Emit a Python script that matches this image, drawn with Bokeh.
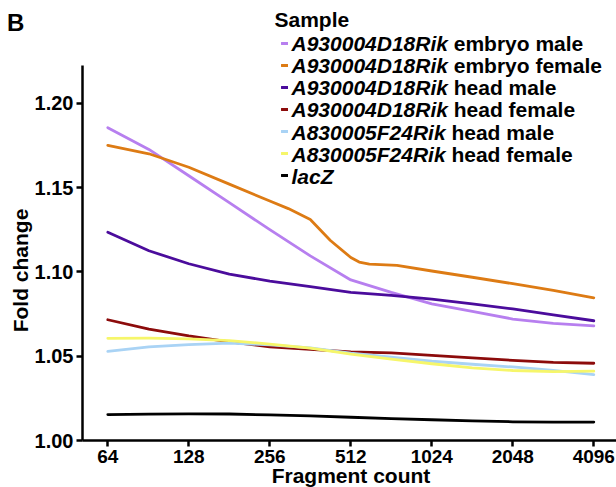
import math
from bokeh.plotting import figure
from bokeh.models import (Range1d, FixedTicker, CustomJSTickFormatter, Label,
                          Legend, LegendItem)
from bokeh.embed import file_html
from bokeh.resources import INLINE

# ---------------- data ----------------
fragment_count = [64, 91, 128, 181, 256, 362, 512, 724, 1024, 1448, 2048, 2896, 4096]
embryo_male = [1.1855, 1.1726, 1.157, 1.141, 1.125, 1.1095, 1.0952, 1.0878, 1.081, 1.0765, 1.072, 1.0695, 1.068]
embryo_female_x = [64, 91, 128, 181, 256, 300, 362, 430, 512, 550, 600, 760, 1024, 1448, 2048, 2896, 4096]
embryo_female = [1.175, 1.170, 1.162, 1.152, 1.142, 1.1375, 1.131, 1.1186, 1.1085, 1.1058, 1.1046, 1.1038, 1.1005, 1.0968, 1.093, 1.089, 1.0846]
head_male = [1.1235, 1.1125, 1.1048, 1.0986, 1.0945, 1.0913, 1.0878, 1.086, 1.0838, 1.081, 1.078, 1.0745, 1.071]
head_female = [1.0716, 1.066, 1.062, 1.0585, 1.0555, 1.054, 1.0525, 1.052, 1.0505, 1.049, 1.0475, 1.0463, 1.0458]
f24_head_male = [1.0528, 1.0555, 1.0569, 1.0577, 1.0567, 1.0549, 1.0518, 1.0494, 1.047, 1.0452, 1.0436, 1.0416, 1.0391]
f24_head_female = [1.0606, 1.0607, 1.0603, 1.0592, 1.0572, 1.0548, 1.0512, 1.0482, 1.0455, 1.0431, 1.0415, 1.0408, 1.0411]
lacz = [1.0154, 1.0156, 1.0158, 1.0157, 1.0152, 1.0146, 1.0138, 1.013, 1.0123, 1.0116, 1.0111, 1.0109, 1.0109]

sample_genes = ["A930004D18Rik", "A930004D18Rik", "A930004D18Rik", "A930004D18Rik",
                "A830005F24Rik", "A830005F24Rik", "lacZ"]
sample_suffix = ["embryo male", "embryo female", "head male", "head female",
                 "head male", "head female", ""]
sample_colors = ["#B77FEF", "#DD7B14", "#4B0C9C", "#8C0B0B", "#A9D3F5", "#F6F66A", "#000000"]

x_ticks = [64, 128, 256, 512, 1024, 2048, 4096]
x_tick_labels = ["64", "128", "256", "512", "1024", "2048", "4096"]
y_ticks = [1.00, 1.05, 1.10, 1.15, 1.20]
y_tick_labels = ["1.00", "1.05", "1.10", "1.15", "1.20"]

series_x = [fragment_count, embryo_female_x, fragment_count, fragment_count,
            fragment_count, fragment_count, fragment_count]
series_y = [embryo_male, embryo_female, head_male, head_female,
            f24_head_male, f24_head_female, lacz]

# ---------------- layout (page pixels; the frame covers the whole canvas) ----------------
W, H = 616, 487
AX_L, AX_B, AX_T = 82, 440, 65     # y-axis x, x-axis y, top of y-axis line
X64, OCT = 107.3, 81.0             # x of tick 64, pixels per octave
PX_PER_UNIT = 1686.5               # pixels per fold-change unit

x_lo = 2 ** (6 - X64 / OCT)
x_hi = 2 ** (6 + (W - X64) / OCT)
x_axis_start = 2 ** (6 - (X64 - AX_L) / OCT)
y_lo = 1.0 - (H - AX_B) / PX_PER_UNIT
y_hi = 1.0 + AX_B / PX_PER_UNIT
y_axis_top = 1.0 + (AX_B - AX_T) / PX_PER_UNIT

FONT = "Liberation Sans"

p = figure(width=W, height=H, x_axis_type="log",
           x_range=Range1d(x_lo, x_hi), y_range=Range1d(y_lo, y_hi),
           output_backend="svg", toolbar_location=None,
           min_border=0, min_border_left=0, min_border_right=0,
           min_border_top=0, min_border_bottom=0)
p.outline_line_color = None
p.grid.visible = False
p.background_fill_color = "white"
p.border_fill_color = "white"

renderers = []
for xs, ys, c in zip(series_x, series_y, sample_colors):
    r = p.line(xs, ys, line_color=c, line_width=2.8, line_cap="round", line_join="round")
    renderers.append(r)

for ax in (p.xaxis[0], p.yaxis[0]):
    ax.axis_line_width = 2.5
    ax.axis_line_color = "black"
    ax.major_tick_line_width = 2.5
    ax.major_tick_line_color = "black"
    ax.major_tick_out = 6
    ax.major_tick_in = 0
    ax.minor_tick_line_color = None
    ax.major_label_text_font = FONT
    ax.major_label_text_font_style = "bold"
    ax.major_label_text_color = "black"
    ax.major_label_standoff = 3

p.xaxis.fixed_location = 1.0
p.xaxis.bounds = (x_axis_start, x_hi)
p.xaxis.ticker = FixedTicker(ticks=x_ticks, minor_ticks=[])
p.xaxis.formatter = CustomJSTickFormatter(code="return tick.toFixed(0);")
p.xaxis.major_label_overrides = dict(zip(x_ticks, x_tick_labels))
p.xaxis.major_label_text_font_size = "19px"

p.yaxis.fixed_location = x_axis_start
p.yaxis.bounds = (1.0, y_axis_top)
p.yaxis.ticker = FixedTicker(ticks=y_ticks, minor_ticks=[])
p.yaxis.formatter = CustomJSTickFormatter(code="return tick.toFixed(2);")
p.yaxis.major_label_overrides = dict(zip(y_ticks, y_tick_labels))
p.yaxis.major_label_text_font_size = "20px"


def page_label(text, px, py, size, style="bold", align="left", angle=0.0):
    """Text placed at a page pixel position, anchored at the canvas top-left."""
    p.add_layout(Label(x=x_lo, y=y_hi, x_offset=px, y_offset=-py, text=text,
                       text_font=FONT, text_font_size=f"{size}px",
                       text_font_style=style, text_align=align,
                       text_baseline="middle", angle=angle, text_color="black"))


# panel letter and axis titles
page_label("B", 6.6, 21.7, 24)
page_label("Fold change", 19.7, 270, 21, align="center", angle=math.pi / 2)
page_label("Fragment count", 350.5, 474.5, 21, align="center")

# legend keys (a real legend tied to the line renderers)
ROW0, ROW, KEY_ROW = 42.7, 22.2, 22
n = len(renderers)
legend = Legend(items=[LegendItem(label=" ", renderers=[r]) for r in renderers],
                location=(281, round(H - (ROW0 - KEY_ROW / 2 + n * KEY_ROW))),
                glyph_width=7, glyph_height=KEY_ROW, label_height=KEY_ROW, label_width=1,
                spacing=0, padding=0, margin=0, label_standoff=0,
                label_text_font_size="1px",
                background_fill_alpha=0, border_line_alpha=0)
p.add_layout(legend)

# legend texts (gene names in italics, as in the reference)
page_label("Sample", 274, 19.3, 21)
GENE_X = 291
for i, (g, s) in enumerate(zip(sample_genes, sample_suffix)):
    y = ROW0 + ROW * i
    page_label(g, GENE_X, y, 21, style="bold italic")
    if s:
        gw = 156.4 if "D18" in g else 154.1
        page_label(s, GENE_X + gw + 5.8, y, 21)

open("out.html", "w").write(file_html(p, INLINE))
